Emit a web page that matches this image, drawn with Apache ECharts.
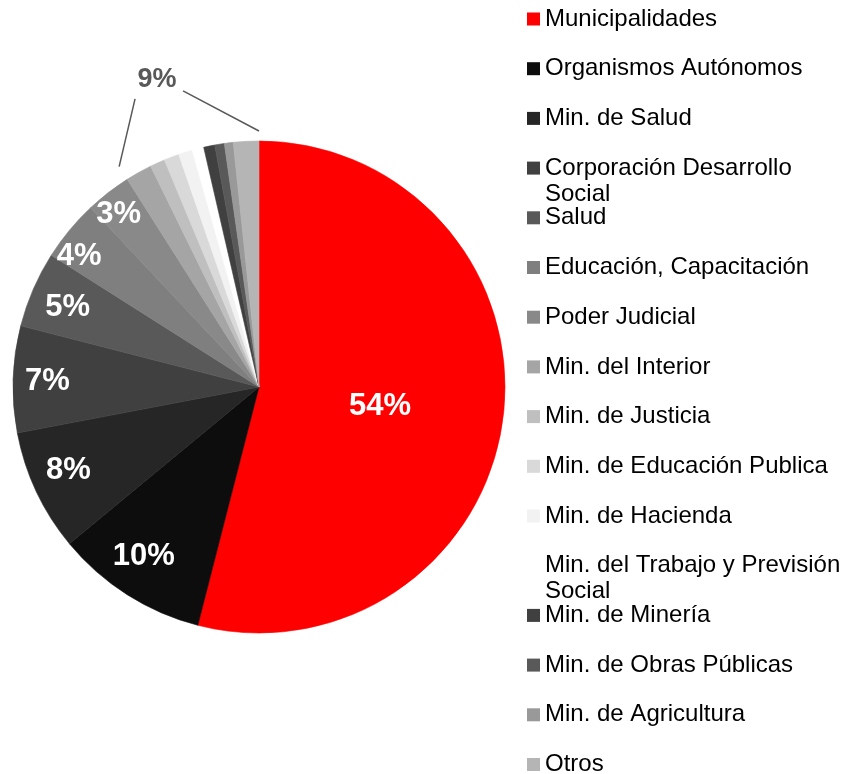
<!DOCTYPE html>
<html>
<head>
<meta charset="utf-8">
<script src="https://cdn.jsdelivr.net/npm/echarts@6/dist/echarts.min.js"></script>
<style>
  html, body { margin: 0; padding: 0; background: #fff; }
  #chart { width: 844px; height: 774px; }
</style>
</head>
<body>
<div id="chart"></div>
<script type="text/javascript">

// categories and their share (%)
var categories = [
    'Municipalidades', 'Organismos Autónomos', 'Min. de Salud', 'Corporación Desarrollo Social',
    'Salud', 'Educación, Capacitación', 'Poder Judicial', 'Min. del Interior',
    'Min. de Justicia', 'Min. de Educación Publica', 'Min. de Hacienda',
    'Min. del Trabajo y Previsión Social', 'Min. de Minería', 'Min. de Obras Públicas',
    'Min. de Agricultura', 'Otros'
];
var values = [54, 10, 8, 7, 5, 4, 3, 1.74, 0.98, 0.99, 0.92, 0.76, 0.73, 0.63, 0.58, 1.67];
var colors = [
    '#ff0000', '#0d0d0d', '#262626', '#404040', '#595959', '#7f7f7f', '#898989', '#a5a5a5',
    '#bfbfbf', '#d9d9d9', '#f2f2f2', '#ffffff', '#404040', '#595959', '#999999', '#b5b5b5'
];
// slices from this index on are labelled together ("9%")
var groupFrom = 7;

// legend names that break onto a second line: [first line, second line]
var wrapped = {
    'Corporación Desarrollo Social': ['Corporación Desarrollo', 'Social'],
    'Min. del Trabajo y Previsión Social': ['Min. del Trabajo y Previsión', 'Social']
};

var cx = 259, cy = 387, R = 246;
var font = "'Liberation Sans', Arial, sans-serif";
var total = values.reduce(function (a, b) { return a + b; }, 0);

// small label nudges (px) so labels sit where the original placed them
var nudge = [[-4, 4], [-3, -8], [-1, -6], [-2, 1], [1, 4], [-6, 13], [-2, 6]];
function labelLayout(p) {
    var n = nudge[p.dataIndex];
    return n ? { dx: n[0], dy: n[1] } : {};
}

// same-colour hairline border hides the antialiasing seams between slices
var data = categories.map(function (n, i) {
    return {
        name: n, value: values[i],
        itemStyle: { color: colors[i], borderColor: colors[i], borderWidth: 0.6 }
    };
});

function pct(p) { return Math.round(p.percent) + '%'; }

var labelFont = { color: '#fff', fontSize: 31, fontWeight: 'bold', fontFamily: font };

// transparent ring that only carries labels for some slices
function labelRing(r0, show) {
    return {
        type: 'pie',
        silent: true,
        center: [cx, cy],
        radius: [r0, R],
        startAngle: 90,
        data: categories.map(function (n, i) { return { name: n, value: values[i] }; }),
        itemStyle: { color: 'rgba(0,0,0,0)', borderWidth: 0 },
        label: Object.assign({
            show: true,
            position: 'inside',
            formatter: function (p) { return show.indexOf(p.dataIndex) >= 0 ? pct(p) : ''; }
        }, labelFont),
        labelLayout: labelLayout,
        labelLine: { show: false },
        emphasis: { disabled: true }
    };
}

var legendLeft = 527, legendTop = 6, rowStep = 49.7, rowH = 26, legendFont = 24;

// bracket label over the grouped small slices
var before = values.slice(0, groupFrom).reduce(function (a, b) { return a + b; }, 0);
var groupSum = total - before;
var a0 = before / total * 2 * Math.PI, a1 = 2 * Math.PI, am = (a0 + a1) / 2;
function pt(a, r) { return [cx + r * Math.sin(a), cy - r * Math.cos(a)]; }
var lab = pt(am, 326);
lab = [lab[0] - 11, lab[1] + 6];
var pIn0 = pt(a0, 261), pIn1 = pt(a1, 256);

var graphics = [
    {
        type: 'text',
        x: lab[0], y: lab[1],
        style: {
            text: Math.round(groupSum / total * 100) + '%',
            fill: '#595959', fontSize: 27, fontWeight: 'bold', fontFamily: font,
            align: 'center', verticalAlign: 'middle'
        }
    },
    {
        type: 'line',
        shape: { x1: pIn0[0], y1: pIn0[1], x2: lab[0] - 22, y2: lab[1] + 19 },
        style: { stroke: '#595959', lineWidth: 1.5 }
    },
    {
        type: 'line',
        shape: { x1: pIn1[0], y1: pIn1[1], x2: lab[0] + 26, y2: lab[1] + 11 },
        style: { stroke: '#595959', lineWidth: 1.5 }
    }
];

// second lines of wrapped legend names hang below their row
categories.forEach(function (n, i) {
    if (!wrapped[n]) return;
    graphics.push({
        type: 'text',
        x: legendLeft + 13 + 5,
        y: legendTop + i * rowStep + rowH / 2 + rowH,
        style: {
            text: wrapped[n][1], fill: '#000', fontSize: legendFont, fontFamily: font,
            align: 'left', verticalAlign: 'middle'
        }
    });
});

var option = {
    backgroundColor: '#fff',
    animation: false,
    legend: {
        orient: 'vertical',
        left: legendLeft,
        top: legendTop,
        height: 900,
        padding: 0,
        itemWidth: 13,
        itemHeight: 13,
        itemGap: rowStep - rowH,
        icon: 'rect',
        itemStyle: { borderWidth: 0 },
        selectedMode: false,
        data: categories,
        formatter: function (n) { return wrapped[n] ? wrapped[n][0] : n; },
        textStyle: { fontSize: legendFont, color: '#000', fontFamily: font, lineHeight: rowH }
    },
    series: [
        {
            type: 'pie',
            center: [cx, cy],
            radius: [0, R],
            startAngle: 90,
            data: data,
            label: Object.assign({
                show: true,
                position: 'inside',
                formatter: function (p) { return p.dataIndex === 0 ? pct(p) : ''; }
            }, labelFont),
            labelLayout: labelLayout,
            labelLine: { show: false },
            emphasis: { disabled: true }
        },
        labelRing(R * 0.68, [1, 2, 3, 4]),
        labelRing(R * 0.81, [5, 6])
    ],
    graphic: graphics
};

var chart = echarts.init(document.getElementById('chart'));
chart.setOption(option);
</script>
</body>
</html>
